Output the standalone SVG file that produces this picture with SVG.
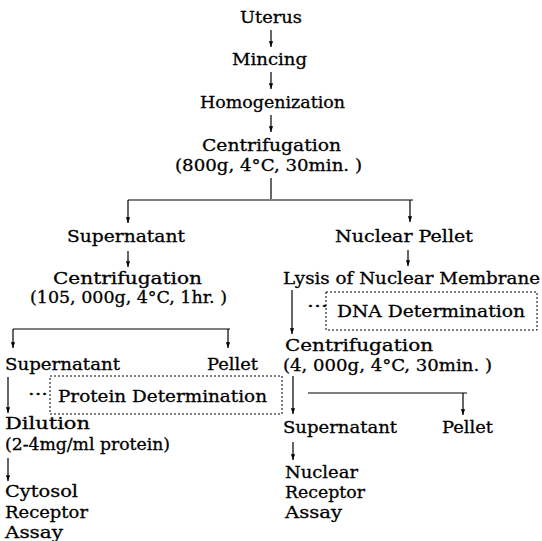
<svg xmlns="http://www.w3.org/2000/svg" width="542" height="541" viewBox="0 0 542 541">
<style>
text{font-family:"DejaVu Serif","Liberation Serif",serif;font-size:17px;fill:#000;stroke:#000;stroke-width:0.3}
.c{stroke:#000;stroke-width:1.2;fill:none}
.box{fill:none;stroke:#000;stroke-width:1;stroke-dasharray:2 2}
</style>
<defs>
<marker id="ad" viewBox="0 0 6 8" refX="3" refY="8" markerWidth="5" markerHeight="7" markerUnits="userSpaceOnUse" orient="0">
<path d="M0.5,1 L3,8 L5.5,1 Z" fill="#000"/>
</marker>
</defs>
<rect width="542" height="541" fill="#fff"/>
<g id="connectors">
<path class="c" d="M271,30 V47" marker-end="url(#ad)"/>
<path class="c" d="M271,72 V89" marker-end="url(#ad)"/>
<path class="c" d="M271,115 V132" marker-end="url(#ad)"/>
<path class="c" d="M271,178 V199"/>
<path class="c" d="M128,200 H413"/>
<path class="c" d="M128,200 V223" marker-end="url(#ad)"/>
<path class="c" d="M410,200 V222" marker-end="url(#ad)"/>
<path class="c" d="M128,251 V267" marker-end="url(#ad)"/>
<path class="c" d="M408,250 V266" marker-end="url(#ad)"/>
<path class="c" d="M13,329 H230"/>
<path class="c" d="M13,329 V348" marker-end="url(#ad)"/>
<path class="c" d="M228,329 V348" marker-end="url(#ad)"/>
<path class="c" d="M8,377 V413" marker-end="url(#ad)"/>
<path class="c" d="M8,458 V481" marker-end="url(#ad)"/>
<path class="c" d="M292,290 V334" marker-end="url(#ad)"/>
<path class="c" d="M293,376 V414" marker-end="url(#ad)"/>
<path class="c" d="M308,393 H467"/>
<path class="c" d="M463,393 V415" marker-end="url(#ad)"/>
<path class="c" d="M293,442 V460" marker-end="url(#ad)"/>
</g>
<g id="uterus"><text x="240" y="23" textLength="62" lengthAdjust="spacingAndGlyphs">Uterus</text></g>
<g id="mincing"><text x="232" y="65" textLength="75" lengthAdjust="spacingAndGlyphs">Mincing</text></g>
<g id="homogenization"><text x="200" y="108" textLength="145" lengthAdjust="spacingAndGlyphs">Homogenization</text></g>
<g id="centrifugation1"><text x="202" y="151" textLength="139" lengthAdjust="spacingAndGlyphs">Centrifugation</text><text x="175" y="171" textLength="187" lengthAdjust="spacingAndGlyphs">(800g, 4°C, 30min. )</text></g>
<g id="supernatant1"><text x="67" y="242" textLength="118" lengthAdjust="spacingAndGlyphs">Supernatant</text></g>
<g id="centrifugation2"><text x="53" y="284" textLength="149" lengthAdjust="spacingAndGlyphs">Centrifugation</text><text x="30" y="303" textLength="197" lengthAdjust="spacingAndGlyphs">(105, 000g, 4°C, 1hr. )</text></g>
<g id="supernatant2"><text x="5" y="370" textLength="115" lengthAdjust="spacingAndGlyphs">Supernatant</text></g>
<g id="pellet2"><text x="207" y="370" textLength="51" lengthAdjust="spacingAndGlyphs">Pellet</text></g>
<g id="protein"><text x="28" y="400" textLength="20" lengthAdjust="spacingAndGlyphs">···</text><rect class="box" x="50" y="376" width="232" height="38"/><text x="58" y="402" textLength="209" lengthAdjust="spacingAndGlyphs">Protein Determination</text></g>
<g id="dilution"><text x="5" y="429" textLength="85" lengthAdjust="spacingAndGlyphs">Dilution</text><text x="5" y="450" textLength="165" lengthAdjust="spacingAndGlyphs">(2-4mg/ml protein)</text></g>
<g id="cytosol"><text x="5" y="497" textLength="73" lengthAdjust="spacingAndGlyphs">Cytosol</text><text x="5" y="518" textLength="83" lengthAdjust="spacingAndGlyphs">Receptor</text><text x="5" y="538" textLength="58" lengthAdjust="spacingAndGlyphs">Assay</text></g>
<g id="nuclearpellet"><text x="335" y="242" textLength="138" lengthAdjust="spacingAndGlyphs">Nuclear Pellet</text></g>
<g id="lysis"><text x="283" y="284" textLength="257" lengthAdjust="spacingAndGlyphs">Lysis of Nuclear Membrane</text></g>
<g id="dna"><text x="307" y="312" textLength="21" lengthAdjust="spacingAndGlyphs">···</text><rect class="box" x="326" y="292" width="211" height="38"/><text x="337" y="317" textLength="188" lengthAdjust="spacingAndGlyphs">DNA Determination</text></g>
<g id="centrifugation3"><text x="285" y="351" textLength="148" lengthAdjust="spacingAndGlyphs">Centrifugation</text><text x="283" y="371" textLength="209" lengthAdjust="spacingAndGlyphs">(4, 000g, 4°C, 30min. )</text></g>
<g id="supernatant3"><text x="283" y="433" textLength="114" lengthAdjust="spacingAndGlyphs">Supernatant</text></g>
<g id="pellet3"><text x="442" y="433" textLength="51" lengthAdjust="spacingAndGlyphs">Pellet</text></g>
<g id="nuclearassay"><text x="285" y="478" textLength="73" lengthAdjust="spacingAndGlyphs">Nuclear</text><text x="285" y="498" textLength="80" lengthAdjust="spacingAndGlyphs">Receptor</text><text x="285" y="518" textLength="57" lengthAdjust="spacingAndGlyphs">Assay</text></g>
</svg>
